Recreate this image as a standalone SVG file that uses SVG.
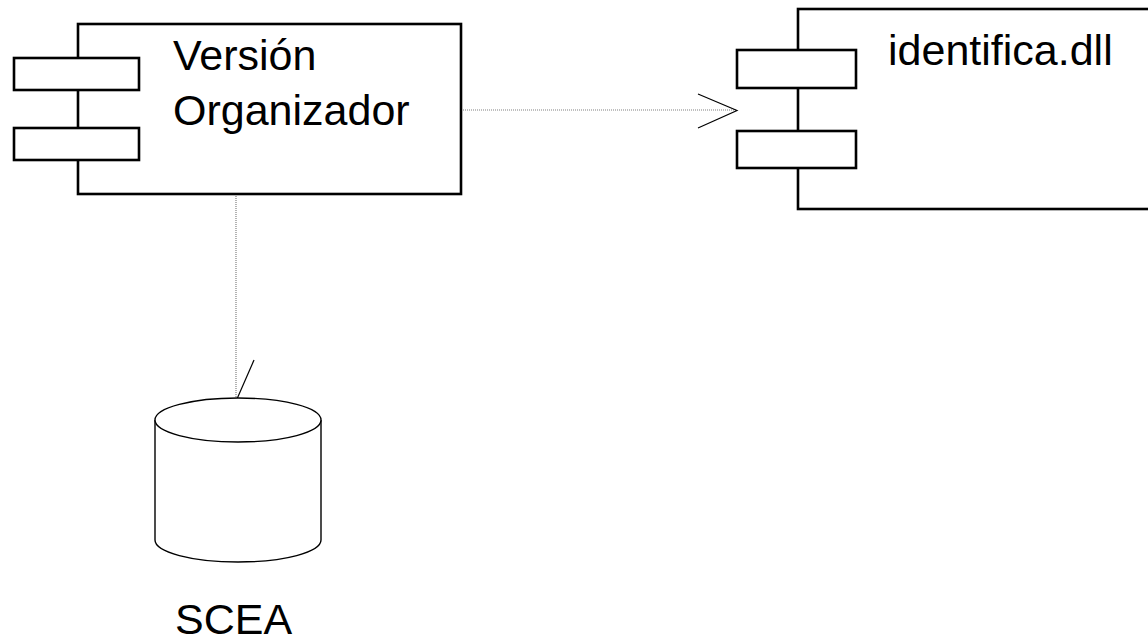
<svg xmlns="http://www.w3.org/2000/svg" width="1148" height="641" viewBox="0 0 1148 641">
<style>
.box{fill:#fff;stroke:#000;stroke-width:2.6}
.cyl{fill:#fff;stroke:#000;stroke-width:1.4}
.lbl{font-family:"Liberation Sans",Arial,sans-serif;font-size:43px;fill:#000}
.dep{fill:none;stroke:#808080;stroke-width:1.2;stroke-dasharray:1 1}
.head{fill:none;stroke:#000;stroke-width:1.2}
</style>
<rect width="1148" height="641" fill="#fff"/>
<g id="connectors">
<line class="dep" x1="459" y1="110" x2="737" y2="110"/>
<polyline class="head" points="698,94 737,110.5 698,128"/>
<line class="dep" x1="236" y1="196" x2="236" y2="398"/>
<line class="head" x1="254" y1="360" x2="237" y2="399"/>
</g>
<g id="version-organizador">
<rect class="box" x="78" y="24" width="383" height="170"/>
<rect class="box" x="14" y="58" width="125" height="32"/>
<rect class="box" x="14" y="128" width="125" height="32"/>
<text class="lbl" x="173" y="70">Versión</text>
<text class="lbl" x="173" y="125">Organizador</text>
</g>
<g id="identifica-dll">
<rect class="box" x="798" y="9" width="360" height="200"/>
<rect class="box" x="737" y="50" width="119" height="38"/>
<rect class="box" x="737" y="131" width="119" height="37"/>
<text class="lbl" x="888" y="65">identifica.dll</text>
</g>
<g id="scea">
<path class="cyl" d="M155,420 L155,540 A83,22 0 0 0 321,540 L321,420"/>
<ellipse class="cyl" cx="238" cy="420" rx="83" ry="22"/>
<text class="lbl" x="175" y="634">SCEA</text>
</g>
</svg>
